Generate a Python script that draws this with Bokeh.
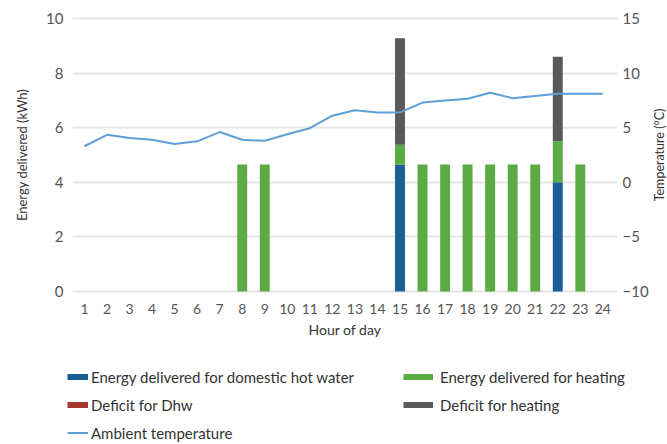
import math
from bokeh.plotting import figure
from bokeh.layouts import column, row
from bokeh.models import ColumnDataSource, Range1d, LinearAxis, FixedTicker, Legend, LegendItem, Label
from bokeh.embed import file_html
from bokeh.resources import INLINE

hours = list(range(1, 25))
dhw = [0, 0, 0, 0, 0, 0, 0, 0, 0, 0, 0, 0, 0, 0, 4.65, 0, 0, 0, 0, 0, 0, 4.0, 0, 0]
dhw_deficit = [0] * 24
heating = [0, 0, 0, 0, 0, 0, 0, 4.65, 4.65, 0, 0, 0, 0, 0, 0.73, 4.65, 4.65, 4.65, 4.65, 4.65, 4.65, 1.5, 4.65, 0]
heating_deficit = [0, 0, 0, 0, 0, 0, 0, 0, 0, 0, 0, 0, 0, 0, 3.9, 0, 0, 0, 0, 0, 0, 3.1, 0, 0]
temperature = [3.3, 4.35, 4.05, 3.9, 3.5, 3.75, 4.6, 3.9, 3.8, 4.4, 4.95, 6.1, 6.6, 6.4, 6.4,
               7.3, 7.5, 7.65, 8.2, 7.7, 7.9, 8.1, 8.1, 8.1]
x_ticks = hours
y_ticks = [0, 2, 4, 6, 8, 10]
temp_ticks = [-10, -5, 0, 5, 10, 15]

BLUE = "#1b5e96"
RED = "#a4382a"
GREEN = "#5bab45"
GRAY = "#58595b"
LINE = "#5d9fd6"
FONT = "Lato"
NAN = float("nan")


def no_align(fig):
    if "frame_align" in fig.properties():
        fig.frame_align = False


src = ColumnDataSource(dict(hour=hours, dhw=dhw, dhw_deficit=dhw_deficit,
                            heating=heating, heating_deficit=heating_deficit,
                            temp=temperature))

p = figure(width=651, height=350, output_backend="svg", toolbar_location=None,
           x_range=Range1d(0.47, 24.65), y_range=Range1d(-0.11, 10.11),
           min_border_left=72, min_border_right=33, min_border_top=15, min_border_bottom=56)
no_align(p)
p.extra_y_ranges = {"temp": Range1d(-10.275, 15.275)}
p.outline_line_color = None

p.xgrid.visible = False
p.ygrid.ticker = FixedTicker(ticks=y_ticks)
p.ygrid.grid_line_color = "#e8e4e4"
p.ygrid.grid_line_width = 2

p.vbar_stack(["dhw", "dhw_deficit", "heating", "heating_deficit"], x="hour", width=0.44,
             color=[BLUE, RED, GREEN, GRAY], line_color=None, source=src)
p.line("hour", "temp", source=src, y_range_name="temp", line_color=LINE, line_width=2)

# axes
xa = p.xaxis[0]
xa.ticker = FixedTicker(ticks=x_ticks)
xa.axis_label = "Hour of day"
ya = p.yaxis[0]
ya.ticker = FixedTicker(ticks=y_ticks)
ya.axis_label = "Energy delivered (kWh)"
ra = LinearAxis(y_range_name="temp", ticker=FixedTicker(ticks=temp_ticks))
p.add_layout(ra, "right")

for ax in (xa, ya, ra):
    ax.axis_line_color = None
    ax.major_tick_line_color = None
    ax.minor_tick_line_color = None
    ax.major_tick_out = 0
    ax.major_tick_in = 0
    ax.minor_tick_out = 0
    ax.minor_tick_in = 0
    ax.major_label_text_font = FONT
    ax.major_label_text_color = "#555555"
    ax.axis_label_text_font = FONT
    ax.axis_label_text_font_style = "normal"
    ax.axis_label_text_color = "#333333"
    ax.axis_label_text_font_size = "13px"

xa.major_label_text_font_size = "14px"
xa.major_label_standoff = 9
xa.axis_label_standoff = 4
xa.axis_label_text_font_size = "14px"
ya.major_label_text_font_size = "15px"
ya.major_label_standoff = 9
ya.axis_label_standoff = 13
ra.major_label_text_font_size = "15px"
ra.major_label_standoff = 5

# right-hand axis title (thin side figure)
side = figure(width=16, height=350, output_backend="svg", toolbar_location=None,
              x_range=Range1d(0, 1), y_range=Range1d(0, 1), x_axis_type=None, y_axis_type=None,
              min_border_left=0, min_border_right=0, min_border_top=0, min_border_bottom=0)
no_align(side)
side.outline_line_color = None
side.xgrid.visible = False
side.ygrid.visible = False
side.add_layout(Label(x=8, y=195.5, x_units="screen", y_units="screen", text="Temperature (°C)",
                      angle=math.pi / 2, text_align="center", text_baseline="middle",
                      text_font=FONT, text_font_size="12.5px", text_color="#333333"))

# legend figure
lg = figure(width=667, height=94, output_backend="svg", toolbar_location=None,
            x_range=Range1d(0, 1), y_range=Range1d(0, 1),
            x_axis_type=None, y_axis_type=None,
            min_border_left=0, min_border_right=0, min_border_top=0, min_border_bottom=0)
no_align(lg)
lg.outline_line_color = None
lg.xgrid.visible = False
lg.ygrid.visible = False

pb = lg.line([NAN], [NAN], line_color=BLUE, line_width=6)
pr = lg.line([NAN], [NAN], line_color=RED, line_width=6)
pl = lg.line([NAN], [NAN], line_color=LINE, line_width=2)
pg = lg.line([NAN], [NAN], line_color=GREEN, line_width=6)
pk = lg.line([NAN], [NAN], line_color=GRAY, line_width=6)


def make_legend(items, loc, gw, standoff):
    return Legend(items=items, location=loc, orientation="vertical",
                  glyph_width=gw, glyph_height=21, label_height=21, spacing=7,
                  padding=0, margin=0, label_standoff=standoff,
                  border_line_color=None, background_fill_alpha=0,
                  label_text_font=FONT, label_text_font_size="15px", label_text_color="#333333")


leg1 = make_legend([
    LegendItem(label="Energy delivered for domestic hot water", renderers=[pb]),
    LegendItem(label="Deficit for Dhw", renderers=[pr]),
    LegendItem(label="Ambient temperature", renderers=[pl]),
], (67, 1), 21, 3)
leg2 = make_legend([
    LegendItem(label="Energy delivered for heating", renderers=[pg]),
    LegendItem(label="Deficit for heating", renderers=[pk]),
], (403, 29), 30, 7)
lg.add_layout(leg1)
lg.add_layout(leg2)

layout = column(row(p, side, spacing=0), lg, spacing=0)
open("out.html", "w").write(file_html(layout, INLINE))
